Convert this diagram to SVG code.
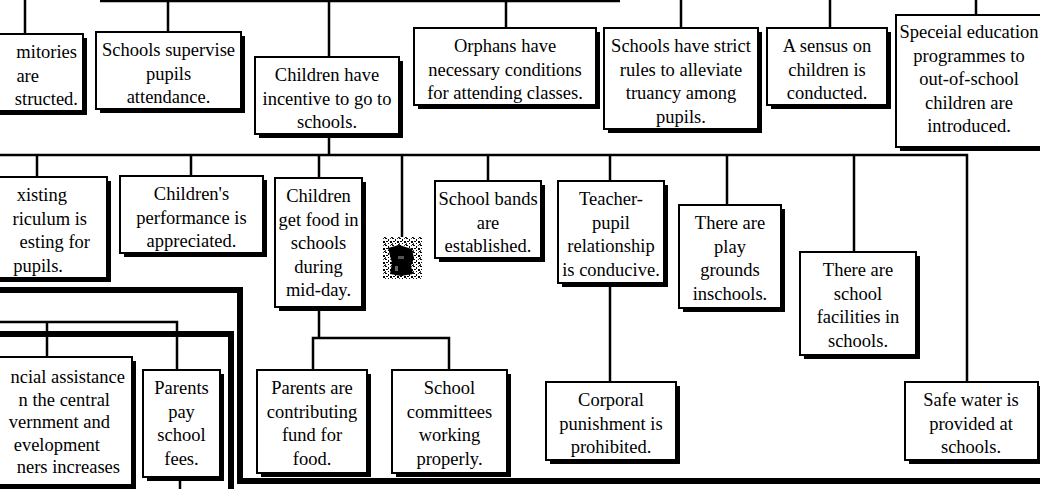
<svg xmlns="http://www.w3.org/2000/svg" width="1040" height="489" viewBox="0 0 1040 489">
  <defs>
    <style>
      .sh { fill: #000; }
      .bx { fill: #fff; stroke: #000; stroke-width: 2; }
      .t { font-family: "Liberation Serif", "Times New Roman", serif; font-size: 18.5px; fill: #000; text-anchor: middle; }
      .te { font-family: "Liberation Serif", "Times New Roman", serif; font-size: 18.5px; fill: #000; text-anchor: end; }
      .ln { fill: none; stroke: #000; stroke-width: 2.5; }
      .tk { fill: none; stroke: #000; stroke-width: 6; }
    </style>
    <!-- grainy halftone fill for the small badge -->
    <pattern id="speckle" width="7" height="7" patternUnits="userSpaceOnUse">
      <rect width="7" height="7" fill="#fff"/>
      <rect x="0" y="0" width="2" height="1" fill="#000"/>
      <rect x="3" y="1" width="1" height="2" fill="#000"/>
      <rect x="5" y="0" width="1" height="1" fill="#444"/>
      <rect x="1" y="3" width="2" height="1" fill="#000"/>
      <rect x="5" y="3" width="2" height="2" fill="#000"/>
      <rect x="0" y="5" width="1" height="2" fill="#333"/>
      <rect x="3" y="5" width="1" height="1" fill="#000"/>
      <rect x="6" y="6" width="1" height="1" fill="#000"/>
    </pattern>
  </defs>
  <rect width="1040" height="489" fill="#fff"/>

  <!-- connectors -->
  <g id="connectors">
    <path class="ln" d="M100,1 H620"/>
    <path class="ln" d="M25,0 V34 M168,0 V32 M329,0 V57 M506,0 V28 M681,0 V28 M830,0 V28 M976,0 V15"/>
    <path class="ln" d="M329,134 V155 M0,155 H967 V382"/>
    <path class="ln" d="M37,155 V177 M191,155 V176 M319,155 V178 M402,155 V238 M488,155 V181 M610,155 V181 M727,155 V205 M854,155 V252"/>
    <path class="ln" d="M610,283 V382"/>
    <path class="ln" d="M319,307 V338 M313,370 V338 H449 V370"/>
    <path class="ln" d="M0,322 H177 V370 M47,322 V357 M180,481 V489"/>
    <path class="tk" d="M0,290 H240 V481 H1040"/>
    <path class="tk" d="M0,334 H231 V489"/>
  </g>

  <!-- top row -->
  <g id="n-dormitories">
    <rect class="sh" x="-16" y="38" width="103" height="77"/>
    <rect class="bx" x="-20" y="34" width="103" height="77"/>
    <text class="te" x="77" y="58">mitories</text>
    <text class="te" x="39" y="81.5">are</text>
    <text class="te" x="78" y="105">structed.</text>
  </g>
  <g id="n-supervise">
    <rect class="sh" x="100" y="36" width="145" height="77"/>
    <rect class="bx" x="96" y="32" width="145" height="77"/>
    <text class="t" x="168.5" y="56"><tspan x="168.5">Schools supervise</tspan><tspan x="168.5" dy="23.5">pupils</tspan><tspan x="168.5" dy="23.5">attendance.</tspan></text>
  </g>
  <g id="n-incentive">
    <rect class="sh" x="259" y="61" width="144" height="77"/>
    <rect class="bx" x="255" y="57" width="144" height="77"/>
    <text class="t" x="327" y="81"><tspan x="327">Children have</tspan><tspan x="327" dy="23.5">incentive to go to</tspan><tspan x="327" dy="23.5">schools.</tspan></text>
  </g>
  <g id="n-orphans">
    <rect class="sh" x="418" y="32" width="182" height="77"/>
    <rect class="bx" x="414" y="28" width="182" height="77"/>
    <text class="t" x="505" y="52"><tspan x="505">Orphans have</tspan><tspan x="505" dy="23.5">necessary conditions</tspan><tspan x="505" dy="23.5">for attending classes.</tspan></text>
  </g>
  <g id="n-strict-rules">
    <rect class="sh" x="608" y="32" width="154" height="101"/>
    <rect class="bx" x="604" y="28" width="154" height="101"/>
    <text class="t" x="681" y="52"><tspan x="681">Schools have strict</tspan><tspan x="681" dy="23.5">rules to alleviate</tspan><tspan x="681" dy="23.5">truancy among</tspan><tspan x="681" dy="23.5">pupils.</tspan></text>
  </g>
  <g id="n-census">
    <rect class="sh" x="771" y="32" width="120" height="77"/>
    <rect class="bx" x="767" y="28" width="120" height="77"/>
    <text class="t" x="827" y="52"><tspan x="827">A sensus on</tspan><tspan x="827" dy="23.5">children is</tspan><tspan x="827" dy="23.5">conducted.</tspan></text>
  </g>
  <g id="n-special-education">
    <rect class="sh" x="900" y="19" width="146" height="132"/>
    <rect class="bx" x="896" y="15" width="146" height="132"/>
    <text class="t" x="969" y="38"><tspan x="969">Speceial education</tspan><tspan x="969" dy="23.5">programmes to</tspan><tspan x="969" dy="23.5">out-of-school</tspan><tspan x="969" dy="23.5">children are</tspan><tspan x="969" dy="23.5">introduced.</tspan></text>
  </g>

  <!-- middle row -->
  <g id="n-curriculum">
    <rect class="sh" x="-16" y="181" width="127" height="101"/>
    <rect class="bx" x="-20" y="177" width="127" height="101"/>
    <text class="te" x="67" y="201">xisting</text>
    <text class="te" x="87" y="224.5">riculum is</text>
    <text class="te" x="90" y="248">esting for</text>
    <text class="te" x="63" y="271.5">pupils.</text>
  </g>
  <g id="n-performance">
    <rect class="sh" x="124" y="180" width="143" height="77"/>
    <rect class="bx" x="120" y="176" width="143" height="77"/>
    <text class="t" x="191.5" y="200"><tspan x="191.5">Children's</tspan><tspan x="191.5" dy="23.5">performance is</tspan><tspan x="191.5" dy="23.5">appreciated.</tspan></text>
  </g>
  <g id="n-food">
    <rect class="sh" x="279" y="182" width="87" height="129"/>
    <rect class="bx" x="275" y="178" width="87" height="129"/>
    <text class="t" x="318.5" y="202"><tspan x="318.5">Children</tspan><tspan x="318.5" dy="23.5">get food in</tspan><tspan x="318.5" dy="23.5">schools</tspan><tspan x="318.5" dy="23.5">during</tspan><tspan x="318.5" dy="23.5">mid-day.</tspan></text>
  </g>
  <!-- small grainy badge: speckled square with a dark irregular blob -->
  <g id="n-badge">
    <rect x="382" y="237" width="40" height="42" fill="url(#speckle)"/>
    <path d="M388,248 L399,245 L412,249 L414,258 L411,266 L413,274 L401,276 L390,274 L392,263 Z" fill="#000"/>
    <rect x="398" y="256" width="6" height="3" fill="#555"/>
    <rect x="395" y="266" width="3" height="5" fill="#666"/>
  </g>
  <g id="n-bands">
    <rect class="sh" x="439" y="185" width="106" height="77"/>
    <rect class="bx" x="435" y="181" width="106" height="77"/>
    <text class="t" x="488" y="205"><tspan x="488">School bands</tspan><tspan x="488" dy="23.5">are</tspan><tspan x="488" dy="23.5">established.</tspan></text>
  </g>
  <g id="n-teacher-pupil">
    <rect class="sh" x="562" y="185" width="106" height="102"/>
    <rect class="bx" x="558" y="181" width="106" height="102"/>
    <text class="t" x="611" y="205"><tspan x="611">Teacher-</tspan><tspan x="611" dy="23.5">pupil</tspan><tspan x="611" dy="23.5">relationship</tspan><tspan x="611" dy="23.5">is conducive.</tspan></text>
  </g>
  <g id="n-playgrounds">
    <rect class="sh" x="683" y="209" width="102" height="103"/>
    <rect class="bx" x="679" y="205" width="102" height="103"/>
    <text class="t" x="730" y="229"><tspan x="730">There are</tspan><tspan x="730" dy="23.5">play</tspan><tspan x="730" dy="23.5">grounds</tspan><tspan x="730" dy="23.5">inschools.</tspan></text>
  </g>
  <g id="n-facilities">
    <rect class="sh" x="804" y="256" width="116" height="103"/>
    <rect class="bx" x="800" y="252" width="116" height="103"/>
    <text class="t" x="858" y="276"><tspan x="858">There are</tspan><tspan x="858" dy="23.5">school</tspan><tspan x="858" dy="23.5">facilities in</tspan><tspan x="858" dy="23.5">schools.</tspan></text>
  </g>
  <g id="n-corporal">
    <rect class="sh" x="550" y="386" width="130" height="78"/>
    <rect class="bx" x="546" y="382" width="130" height="78"/>
    <text class="t" x="611" y="406"><tspan x="611">Corporal</tspan><tspan x="611" dy="23.5">punishment is</tspan><tspan x="611" dy="23.5">prohibited.</tspan></text>
  </g>
  <g id="n-water">
    <rect class="sh" x="909" y="386" width="133" height="78"/>
    <rect class="bx" x="905" y="382" width="133" height="78"/>
    <text class="t" x="971" y="406"><tspan x="971">Safe water is</tspan><tspan x="971" dy="23.5">provided at</tspan><tspan x="971" dy="23.5">schools.</tspan></text>
  </g>

  <!-- bottom row -->
  <g id="n-assistance">
    <rect class="sh" x="-16" y="361" width="152" height="128"/>
    <rect class="bx" x="-20" y="357" width="152" height="128"/>
    <text class="te" x="125" y="383">ncial assistance</text>
    <text class="te" x="110" y="405.5">n the central</text>
    <text class="te" x="110" y="428">vernment and</text>
    <text class="te" x="100" y="450.5">evelopment</text>
    <text class="te" x="120" y="473">ners increases</text>
  </g>
  <g id="n-fees">
    <rect class="sh" x="147" y="374" width="77" height="107"/>
    <rect class="bx" x="143" y="370" width="77" height="107"/>
    <text class="t" x="181.5" y="394"><tspan x="181.5">Parents</tspan><tspan x="181.5" dy="23.5">pay</tspan><tspan x="181.5" dy="23.5">school</tspan><tspan x="181.5" dy="23.5">fees.</tspan></text>
  </g>
  <g id="n-fund">
    <rect class="sh" x="261" y="374" width="110" height="103"/>
    <rect class="bx" x="257" y="370" width="110" height="103"/>
    <text class="t" x="312" y="394"><tspan x="312">Parents are</tspan><tspan x="312" dy="23.5">contributing</tspan><tspan x="312" dy="23.5">fund for</tspan><tspan x="312" dy="23.5">food.</tspan></text>
  </g>
  <g id="n-committees">
    <rect class="sh" x="396" y="374" width="115" height="103"/>
    <rect class="bx" x="392" y="370" width="115" height="103"/>
    <text class="t" x="449.5" y="394"><tspan x="449.5">School</tspan><tspan x="449.5" dy="23.5">committees</tspan><tspan x="449.5" dy="23.5">working</tspan><tspan x="449.5" dy="23.5">properly.</tspan></text>
  </g>
</svg>
